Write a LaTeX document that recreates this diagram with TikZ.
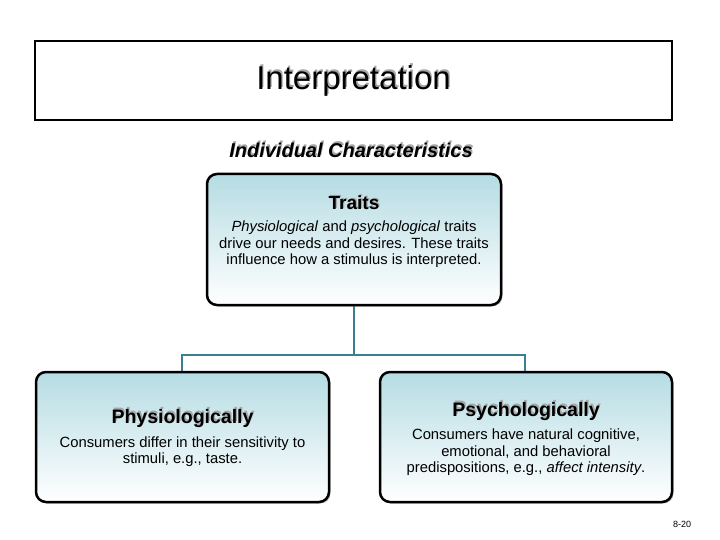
\documentclass[tikz,border=0pt]{standalone}
\usepackage{fontspec}
\setmainfont{Liberation Sans}
\usetikzlibrary{shadows}
\begin{document}
\begin{tikzpicture}[x=1pt,y=-1pt,
  card/.style={draw=black,line width=2.5pt,rounded corners=10pt,top color=cardtop,bottom color=white,drop shadow={shadow xshift=1.5pt,shadow yshift=-1.5pt,fill=black!50}},
  link/.style={draw=teal2,line width=2.5pt},
  body/.style={font=\fontsize{14.8}{16.5}\selectfont,align=center},
  shd/.style={text=black!35,xshift=1.2pt,yshift=1.2pt}]
\definecolor{cardtop}{HTML}{B5DCE3}
\definecolor{teal2}{HTML}{3A8090}
\useasboundingbox (0,0) rectangle (720,540);
\node[draw=black,line width=2.5pt,fill=white,minimum width=637,minimum height=79,inner sep=0] (title) at (353.5,80.5) {};
\node[shd] at (353.5,80.5) {\fontsize{33}{36}\selectfont Interpretation};
\node (tl) at (353.5,80.5) {\fontsize{33}{36}\selectfont Interpretation};
\node[shd] at (351,150) {\fontsize{20}{22}\selectfont\bfseries\itshape Individual Characteristics};
\node (ic) at (351,150) {\fontsize{20}{22}\selectfont\bfseries\itshape Individual Characteristics};
\coordinate (jt) at (354,355);
\coordinate (jl) at (182,355);
\coordinate (jr) at (525,355);
\draw[link] (354,305) -- (jt);
\draw[link] (182,372) -- (jl) -- (jr) -- (525,372);
\node[card,minimum width=294,minimum height=131] (traits) at (354,239.5) {};
\node[card,minimum width=293,minimum height=130] (phys) at (182.5,437) {};
\node[card,minimum width=292,minimum height=130] (psy) at (526,437) {};
\node[shd] at (354,203) {\fontsize{19}{20}\selectfont\bfseries Traits};
\node (tt) at (354,203) {\fontsize{19}{20}\selectfont\bfseries Traits};
\node[body] (tb) at (354,244.5) {\textit{Physiological} and \textit{psychological} traits\\drive our needs and desires.  These traits\\influence how a stimulus is interpreted.};
\node[shd] at (182.5,418) {\fontsize{19.5}{20}\selectfont\bfseries Physiologically};
\node (pt) at (182.5,418) {\fontsize{19.5}{20}\selectfont\bfseries Physiologically};
\node[body] (pb) at (182.5,451.5) {Consumers differ in their sensitivity to\\stimuli, e.g., taste.};
\node[shd] at (526,411) {\fontsize{19.5}{20}\selectfont\bfseries Psychologically};
\node (st) at (526,411) {\fontsize{19.5}{20}\selectfont\bfseries Psychologically};
\node[body] (sb) at (526,452.5) {Consumers have natural cognitive,\\emotional, and behavioral\\predispositions, e.g., \textit{affect intensity}.};
\node (pg) at (682,524) {\fontsize{9}{10}\selectfont 8-20};
\end{tikzpicture}
\end{document}
